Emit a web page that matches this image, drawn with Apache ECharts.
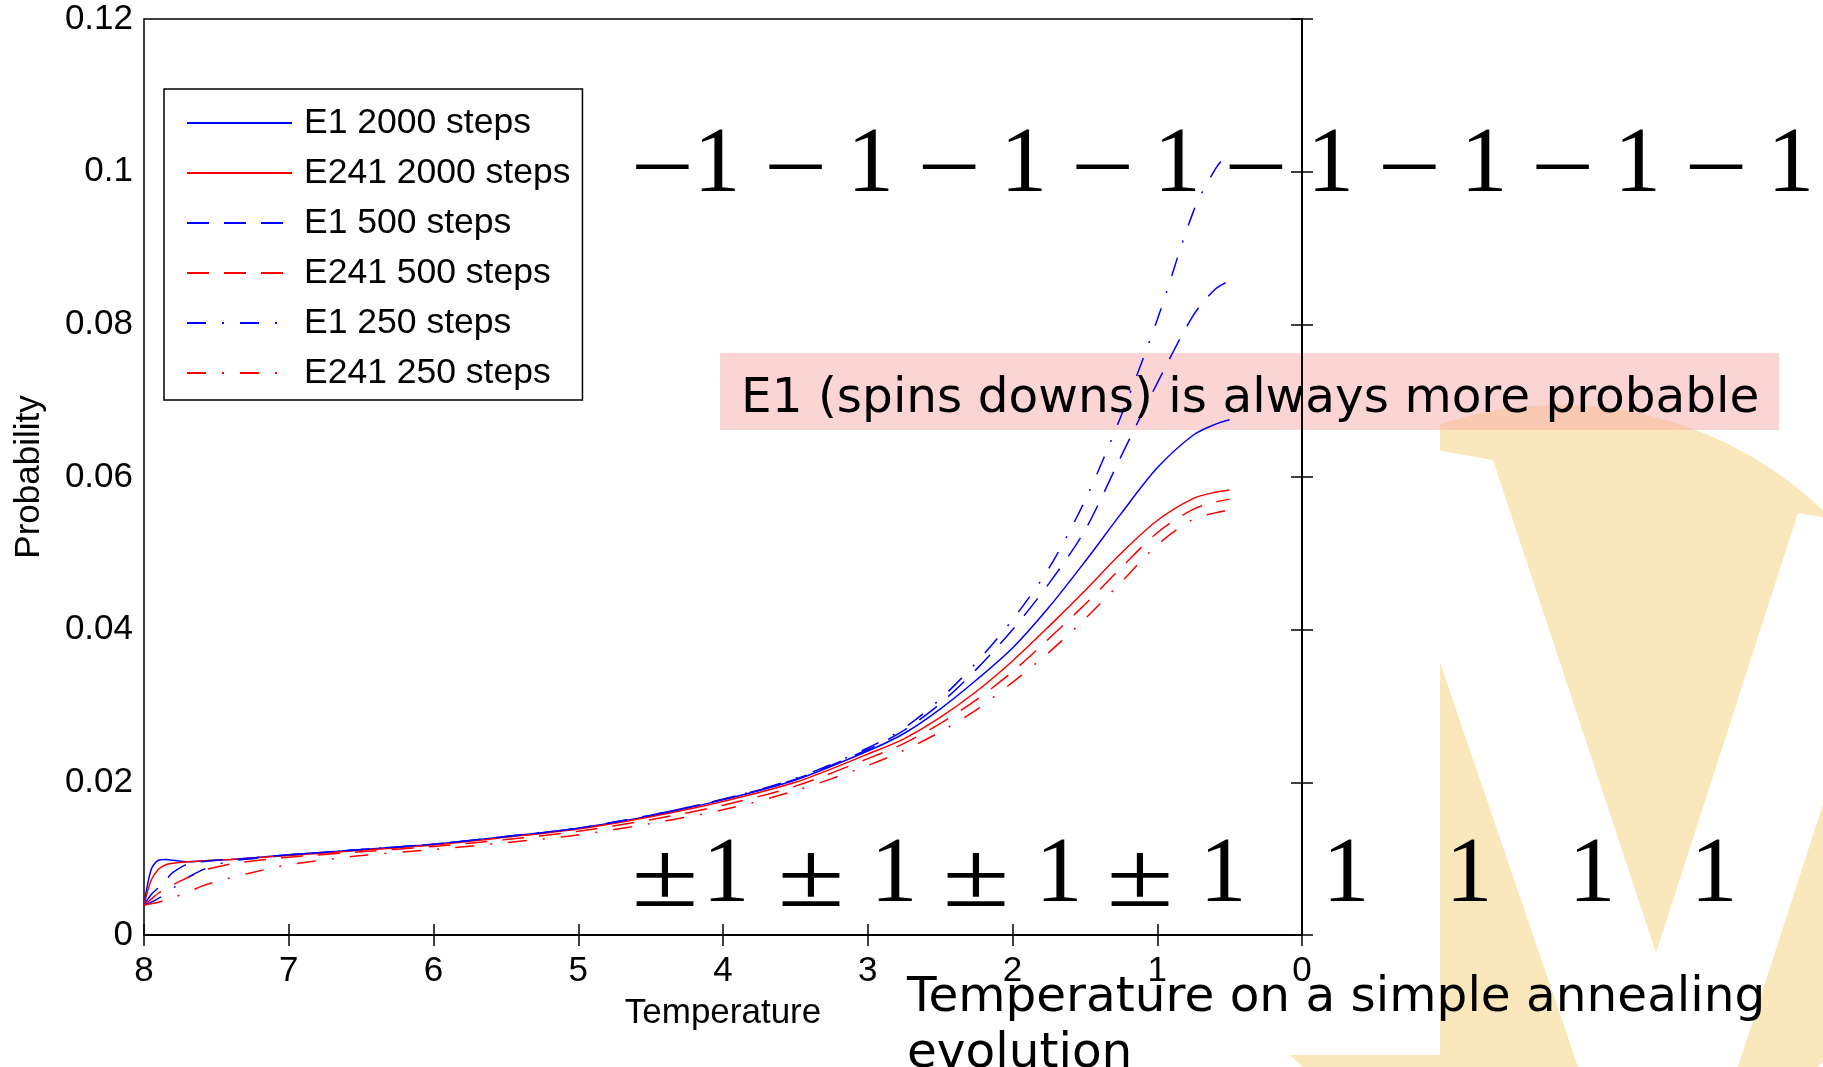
<!DOCTYPE html>
<html>
<head>
<meta charset="utf-8">
<title>Probability vs temperature</title>
<script src="https://cdn.jsdelivr.net/npm/echarts@6/dist/echarts.min.js"></script>
<style>
  html, body { margin: 0; padding: 0; background: #fff; }
  #chart { width: 1823px; height: 1067px; }
</style>
</head>
<body>
<div id="chart"></div>
<script>
// temperature along the annealing schedule, high -> low
var temps = [8, 7.95, 7.9, 7.85, 7.8, 7.7, 7.6, 7.5, 7.4, 7.25, 7, 6.5, 6, 5.5, 5, 4.5, 4, 3.5, 3, 2.75, 2.5, 2.25, 2, 1.75, 1.5, 1.25, 1, 0.75, 0.6, 0.5];

// probability of each state
var e1Steps2000 = [0.0039, 0.0086, 0.0098, 0.0099, 0.0098, 0.0096, 0.0097, 0.0098, 0.0099, 0.0101, 0.0105, 0.0112, 0.0119, 0.0129, 0.0140, 0.0156, 0.0177, 0.0203, 0.0241, 0.0264, 0.0296, 0.0334, 0.0376, 0.0429, 0.0489, 0.0552, 0.0612, 0.0655, 0.0669, 0.0675];
var e241Steps2000 = [0.0039, 0.0072, 0.0086, 0.0092, 0.0094, 0.0096, 0.0097, 0.0098, 0.0099, 0.0101, 0.0104, 0.0111, 0.0118, 0.0128, 0.0139, 0.0155, 0.0175, 0.0200, 0.0237, 0.0257, 0.0285, 0.0319, 0.0359, 0.0404, 0.0451, 0.0500, 0.0543, 0.0572, 0.0580, 0.0583];
var e1Steps500 = [0.0039, 0.0053, 0.0062, 0.0072, 0.0082, 0.0093, 0.0096, 0.0098, 0.0099, 0.0101, 0.0105, 0.0112, 0.0119, 0.0129, 0.0140, 0.0157, 0.0178, 0.0204, 0.0243, 0.0268, 0.0303, 0.0348, 0.0400, 0.0460, 0.0530, 0.0627, 0.0723, 0.0812, 0.0846, 0.0857];
var e241Steps500 = [0.0039, 0.0047, 0.0055, 0.0061, 0.0066, 0.0075, 0.0084, 0.0089, 0.0093, 0.0097, 0.0102, 0.0109, 0.0116, 0.0125, 0.0136, 0.0151, 0.0170, 0.0195, 0.0231, 0.0251, 0.0277, 0.0308, 0.0345, 0.0388, 0.0433, 0.0481, 0.0527, 0.0558, 0.0567, 0.0571];
var e1Steps250 = [0.0039, 0.0043, 0.0048, 0.0054, 0.0061, 0.0075, 0.0085, 0.0092, 0.0097, 0.0100, 0.0105, 0.0112, 0.0119, 0.0129, 0.0140, 0.0157, 0.0178, 0.0205, 0.0245, 0.0271, 0.0309, 0.0357, 0.0413, 0.0480, 0.0569, 0.0680, 0.0806, 0.0948, 0.1003, 0.1027];
var e241Steps250 = [0.0039, 0.0041, 0.0043, 0.0046, 0.0049, 0.0056, 0.0064, 0.0070, 0.0075, 0.0082, 0.0092, 0.0104, 0.0112, 0.0121, 0.0131, 0.0146, 0.0164, 0.0189, 0.0222, 0.0242, 0.0266, 0.0295, 0.0331, 0.0370, 0.0414, 0.0462, 0.0511, 0.0545, 0.0553, 0.0557];

var seriesNames = ['E1 2000 steps', 'E241 2000 steps', 'E1 500 steps', 'E241 500 steps', 'E1 250 steps', 'E241 250 steps'];
var xTicks = [8, 7, 6, 5, 4, 3, 2, 1, 0];
var yTicks = [0, 0.02, 0.04, 0.06, 0.08, 0.1, 0.12];
var yTickLabels = ['0', '0.02', '0.04', '0.06', '0.08', '0.1', '0.12'];

// slide overlays
var topRow = ['−', '1', '−', '1', '−', '1', '−', '1', '−', '1', '−', '1', '−', '1', '−', '1'];
var bottomRow = ['±', '1', '±', '1', '±', '1', '±', '1', '1', '1', '1', '1'];
var noteText = 'E1 (spins downs) is always more probable';
var captionText = ['Temperature on a simple annealing', 'evolution'];

var BLUE = '#0000ff';
var RED = '#ff0000';
var DASH = [22, 15];
var DASHDOT = [19, 16, 2, 16];

function pairs(vals) {
  return temps.map(function (t, i) { return [t, vals[i]]; });
}

function makeLine(name, vals, color, dash) {
  return {
    name: name,
    type: 'line',
    data: pairs(vals),
    symbol: 'none',
    showSymbol: false,
    smooth: 0.3,
    lineStyle: { color: color, width: 1.5, type: dash },
    itemStyle: { color: color },
    z: 3
  };
}

var chart = echarts.init(document.getElementById('chart'));

// glyph positions of the big math overlays
var topOnes = [];
for (var i = 0; i < 8; i++) topOnes.push(717 + i * 153.4);
var bottomOnes = [726, 894, 1059, 1223, 1346, 1469, 1592, 1714];

var graphics = [];

// watermark disc with a white V
graphics.push({ type: 'circle', z: -30, shape: { cx: 1560, cy: 786, r: 381 }, style: { fill: '#fae7bb' } });
graphics.push({
  type: 'polygon', z: -29,
  shape: { points: [[1363, 437], [1660, 1307], [1911, 533], [1798, 513], [1656, 953], [1493, 460]] },
  style: { fill: '#ffffff' }
});
// white figure panel
graphics.push({ type: 'rect', z: -28, shape: { x: 0, y: 0, width: 1440, height: 1055 }, style: { fill: '#ffffff' } });
// pink note box
graphics.push({ type: 'rect', z: -27, shape: { x: 720, y: 353, width: 1059, height: 77 }, style: { fill: 'rgba(247,172,168,0.5)' } });
graphics.push({
  type: 'text', z: 100, x: 741, y: 399,
  style: { text: noteText, font: '48.5px "DejaVu Sans"', fill: '#000', textAlign: 'left', textVerticalAlign: 'middle' }
});
graphics.push({
  type: 'text', z: 100, x: 907, y: 998,
  style: { text: captionText[0], font: '48.5px "DejaVu Sans"', fill: '#000', textAlign: 'left', textVerticalAlign: 'middle' }
});
graphics.push({
  type: 'text', z: 100, x: 907, y: 1054,
  style: { text: captionText[1], font: '48.5px "DejaVu Sans"', fill: '#000', textAlign: 'left', textVerticalAlign: 'middle' }
});

function glyph(ch, x, baseline, sx, dy) {
  return {
    type: 'text', z: 100, x: x, y: baseline - 24 + dy, scaleX: sx,
    style: { text: ch, font: '94px "Liberation Serif"', fill: '#000', textAlign: 'center', textVerticalAlign: 'middle' }
  };
}

// top row: -1 -1 -1 ...
for (var k = 0; k < 8; k++) {
  var mx = k === 0 ? topOnes[0] - 55 : topOnes[k] - 75;
  graphics.push(glyph(topRow[2 * k], mx, 190, 1.2, 7));
  graphics.push(glyph(topRow[2 * k + 1], topOnes[k], 190, 1, 0));
}
// bottom row: ±1 ±1 ±1 ±1 1 1 1 1
for (var j = 0; j < 4; j++) {
  var px = j === 0 ? bottomOnes[0] - 61 : bottomOnes[j] - 83;
  graphics.push(glyph(bottomRow[2 * j], px, 900, 1.3, 5));
  graphics.push(glyph(bottomRow[2 * j + 1], bottomOnes[j], 900, 1, 0));
}
for (var m = 4; m < 8; m++) {
  graphics.push(glyph(bottomRow[4 + m], bottomOnes[m], 900, 1, 0));
}

var FONT = 'Liberation Sans';

var option = {
  animation: false,
  textStyle: { fontFamily: FONT, color: '#000' },
  grid: { left: 144, right: 521, top: 19, bottom: 132, show: true, borderColor: '#000', borderWidth: 1.5, backgroundColor: 'transparent' },
  legend: {
    left: 164, top: 89,
    orient: 'vertical',
    data: seriesNames,
    itemWidth: 105, itemHeight: 14, itemGap: 10,
    itemStyle: { opacity: 0 },
    backgroundColor: '#fff',
    borderColor: '#000', borderWidth: 1.5,
    padding: [14, 12, 7, 22],
    textStyle: { fontFamily: FONT, fontSize: 35.5, lineHeight: 40, color: '#000', padding: [0, 0, 0, 7] },
    z: 10
  },
  xAxis: [{
    type: 'value', min: 0, max: 8, interval: 1, inverse: true,
    name: 'Temperature', nameLocation: 'middle', nameGap: 61,
    nameTextStyle: { fontFamily: FONT, fontSize: 35, color: '#000' },
    axisLine: { show: true, lineStyle: { color: '#000', width: 1.5 } },
    axisTick: { show: true, inside: true, length: 11, lineStyle: { color: '#000', width: 1.5 } },
    axisLabel: {
      margin: 19, fontSize: 35, color: '#000', fontFamily: FONT,
      formatter: function (v) { return String(xTicks[xTicks.indexOf(v)]); }
    },
    splitLine: { show: false }
  }, {
    type: 'value', position: 'top', min: 0, max: 8, interval: 1, inverse: true,
    axisLine: { show: true, lineStyle: { color: '#000', width: 1.5 } },
    axisTick: { show: true, inside: true, length: 11, lineStyle: { color: '#000', width: 1.5 } },
    axisLabel: { show: false },
    splitLine: { show: false }
  }],
  yAxis: [{
    type: 'value', min: 0, max: 0.12, interval: 0.02,
    name: 'Probability', nameLocation: 'middle', nameGap: 97,
    nameTextStyle: { fontFamily: FONT, fontSize: 35, color: '#000' },
    axisLine: { show: true, lineStyle: { color: '#000', width: 1.5 } },
    axisTick: { show: true, inside: true, length: 11, lineStyle: { color: '#000', width: 1.5 } },
    axisLabel: {
      margin: 11, fontSize: 35, color: '#000', fontFamily: FONT,
      formatter: function (v) {
        for (var i = 0; i < yTicks.length; i++) {
          if (Math.abs(yTicks[i] - v) < 1e-9) return yTickLabels[i];
        }
        return '';
      }
    },
    splitLine: { show: false }
  }, {
    type: 'value', position: 'right', min: 0, max: 0.12, interval: 0.02,
    axisLine: { show: true, lineStyle: { color: '#000', width: 1.5 } },
    axisTick: { show: true, inside: true, length: 11, lineStyle: { color: '#000', width: 1.5 } },
    axisLabel: { show: false },
    splitLine: { show: false }
  }],
  series: [
    makeLine(seriesNames[0], e1Steps2000, BLUE, 'solid'),
    makeLine(seriesNames[1], e241Steps2000, RED, 'solid'),
    makeLine(seriesNames[2], e1Steps500, BLUE, DASH),
    makeLine(seriesNames[3], e241Steps500, RED, DASH),
    makeLine(seriesNames[4], e1Steps250, BLUE, DASHDOT),
    makeLine(seriesNames[5], e241Steps250, RED, DASHDOT)
  ],
  graphic: { elements: graphics }
};

chart.setOption(option);
</script>
</body>
</html>
